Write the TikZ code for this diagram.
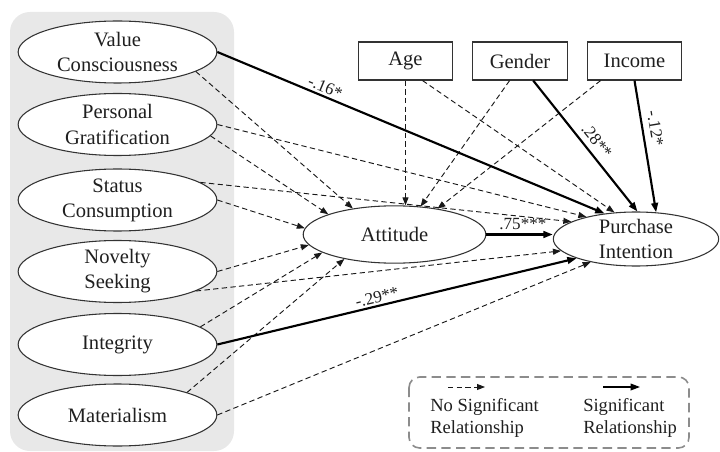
\documentclass[tikz,border=0pt]{standalone}
\usepackage{fontspec}
\setmainfont{Liberation Serif}
\usetikzlibrary{arrows.meta,shapes.geometric}
\begin{document}
\begin{tikzpicture}[x=0.75pt,y=-0.75pt,
  every node/.style={font=\fontsize{15.4}{18.8}\selectfont, text=black!88},
  latent/.style={ellipse, draw=black!80, line width=0.8pt, fill=white, inner sep=-4pt,
     minimum width=149pt, minimum height=46.5pt, align=center},
  ctrl/.style={rectangle, draw=black!80, line width=0.8pt, fill=white,
     minimum width=71pt, minimum height=28.5pt, inner sep=0pt},
  ns/.style={dash pattern=on 4pt off 2.5pt, line width=0.7pt, black!90,
     -{Triangle[length=6pt,width=4.5pt]}},
  sig/.style={line width=1.6pt, black, -{Triangle[length=7pt,width=5pt]}},
  coef/.style={font=\fontsize{12.8}{15}\selectfont, inner sep=1.5pt},
  legtext/.style={font=\fontsize{13.9}{16.3}\selectfont, align=left, anchor=north west, inner sep=0pt}
]
\useasboundingbox (0,0) rectangle (720,452);
\fill[black!9, rounded corners=15pt] (10,12) rectangle (234,451);

\node[latent] (vc) at (117.5,52) {Value\\Consciousness};
\node[latent] (pg) at (117.5,124.5) {Personal\\Gratification};
\node[latent] (sc) at (117.5,200) {Status\\Consumption};
\node[latent] (nsk) at (117.5,271.5) {Novelty\\Seeking};
\node[latent] (integ) at (117.5,344.5) {Integrity};
\node[latent] (mat) at (117.5,415) {Materialism};
\node[latent, minimum width=137pt, minimum height=43pt] (att) at (394.5,234.5) {Attitude};
\node[latent, minimum width=124pt, minimum height=40.5pt] (pi) at (636,239) {Purchase\\Intention};
\node[ctrl] (age) at (405.5,61) {Age};
\node[ctrl] (gen) at (520,61) {Gender};
\node[ctrl] (inc) at (634.5,61) {Income};

% non-significant paths
\draw[ns] (vc.-14) -- (att.148);
\draw[ns] (pg.east) -- (pi.156);
\draw[ns] (pg.-7) -- (att.163);
\draw[ns] (sc.12) -- (pi.165);
\draw[ns] (sc.east) -- (att.176);
\draw[ns] (nsk.east) -- (att.187);
\draw[ns] (nsk.-14) -- (pi.189);
\draw[ns] (integ.12) -- (att.194);
\draw[ns] (mat.18) -- (att.206);
\draw[ns] (mat.east) -- (pi.207);
\draw[ns] (age.south) -- (age.south |- att.north);
\draw[ns] (age.-49) -- (pi.129);
\draw[ns] (gen.-118) -- (att.47);
\draw[ns] (inc.-150) -- (att.31);

% significant paths
\draw[sig] (vc.east) -- node[coef, sloped, above, pos=0.27] {-.16*} (pi.141);
\draw[sig] (integ.east) -- node[coef, sloped, above, pos=0.45] {-.29**} (pi.198);
\draw[sig] (gen.-56) -- node[coef, sloped, above=2.5pt, pos=0.52] {.28**} (pi.87);
\draw[sig] (inc.south) -- node[coef, sloped, above=3pt, pos=0.38] {-.12*} (pi.53);
\draw[sig] (att.east) -- node[coef, above=1pt, pos=0.55] {.75***} (att.east -| pi.west);

% legend
\draw[black!45, line width=1.2pt, dash pattern=on 7pt off 4pt, rounded corners=8pt]
  (409,377) rectangle (689,448);
\coordinate (l1a) at (448,387);
\coordinate (l1b) at (485,387);
\coordinate (l2a) at (603,387);
\coordinate (l2b) at (640,387);
\draw[ns] (l1a) -- (l1b);
\draw[sig, line width=1pt] (l2a) -- (l2b);
\node[legtext] (lt1) at (430,398) {No Significant\\Relationship};
\node[legtext] (lt2) at (583,398) {Significant\\Relationship};
\end{tikzpicture}
\end{document}
